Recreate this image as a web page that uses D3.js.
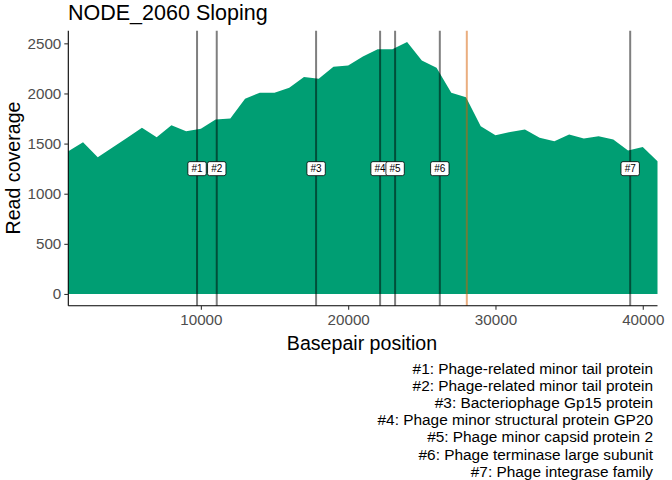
<!DOCTYPE html>
<html>
<head>
<meta charset="utf-8">
<script src="https://cdn.jsdelivr.net/npm/d3@7"></script>
<style>
  body { margin: 0; background: #fff; }
  text { font-family: "Liberation Sans", Arial, sans-serif; }
</style>
</head>
<body>
<div id="chart"></div>
<script>
// coverage sampled every 1000 bp
var positions = d3.range(1000, 42000, 1000)
var coverage = [1423, 1513, 1363, 1461, 1559, 1657, 1563, 1683, 1623, 1647,
  1740, 1750, 1947, 2007, 2007, 2057, 2163, 2147, 2267, 2280,
  2368, 2440, 2440, 2513, 2330, 2257, 2007, 1963, 1673, 1583,
  1615, 1640, 1557, 1523, 1590, 1550, 1573, 1540, 1430, 1467, 1323]

var geneLabels = ['#1', '#2', '#3', '#4', '#5', '#6', '#7']
var genePos = [9740, 11078, 17822, 22168, 23186, 26222, 39146]
var geneNames = ['Phage-related minor tail protein', 'Phage-related minor tail protein',
  'Bacteriophage Gp15 protein', 'Phage minor structural protein GP20',
  'Phage minor capsid protein 2', 'Phage terminase large subunit', 'Phage integrase family']
var markerPos = [28055]
var labelY = 1250

var xTicks = [10000, 20000, 30000, 40000]
var yTicks = [0, 500, 1000, 1500, 2000, 2500]

var w = 672, h = 480
var svg = d3.select('#chart').append('svg').attr('width', w).attr('height', h)

var x = d3.scaleLinear().domain([1000, 41000]).range([68.3, 657.5])
var y = d3.scaleLinear().domain([-117, 2626]).range([305.7, 30.7])

var data = positions.map(function (p, i) { return { x: p, y: coverage[i] } })

var area = d3.area().x(function (d) { return x(d.x) }).y0(y(0)).y1(function (d) { return y(d.y) })
svg.append('path').datum(data).attr('d', area).attr('fill', '#009E73')

// gene lines
svg.selectAll('line.gene').data(genePos).enter().append('line')
  .attr('class', 'gene')
  .attr('x1', function (d) { return x(d) }).attr('x2', function (d) { return x(d) })
  .attr('y1', 30.7).attr('y2', 305.7)
  .attr('stroke', 'black').attr('stroke-opacity', 0.5).attr('stroke-width', 2)

svg.selectAll('line.marker').data(markerPos).enter().append('line')
  .attr('class', 'marker')
  .attr('x1', function (d) { return x(d) }).attr('x2', function (d) { return x(d) })
  .attr('y1', 30.7).attr('y2', 305.7)
  .attr('stroke', '#D55E00').attr('stroke-opacity', 0.5).attr('stroke-width', 2)

// labels
var lab = svg.selectAll('g.lab').data(genePos).enter().append('g')
  .attr('class', 'lab')
  .attr('transform', function (d) { return 'translate(' + x(d) + ',' + y(labelY) + ')' })
lab.append('rect').attr('x', -9.2).attr('y', -7).attr('width', 18.4).attr('height', 14)
  .attr('rx', 2).attr('fill', 'white').attr('stroke', 'black').attr('stroke-width', 0.8)
lab.append('text').attr('text-anchor', 'middle').attr('y', 3.6)
  .attr('font-size', 10).attr('fill', 'black')
  .text(function (d, i) { return geneLabels[i] })

// axes
var xAxis = svg.append('g').attr('transform', 'translate(0,305.7)')
  .call(d3.axisBottom(x).tickValues(xTicks).tickFormat(d3.format('d')).tickSize(4).tickPadding(4.5))
var yAxis = svg.append('g').attr('transform', 'translate(68.3,0)')
  .call(d3.axisLeft(y).tickValues(yTicks).tickFormat(d3.format('d')).tickSize(4).tickPadding(3))

;[xAxis, yAxis].forEach(function (g) {
  g.select('.domain').attr('stroke', 'black').attr('stroke-width', 1.1)
  g.selectAll('.tick line').attr('stroke', '#333').attr('stroke-width', 1.1)
  g.selectAll('.tick text').attr('fill', '#4D4D4D').attr('font-size', 15.2)
    .style('font-family', '"Liberation Sans", Arial, sans-serif')
})
yAxis.select('.domain').attr('d', 'M0,305.7V30.7')
xAxis.select('.domain').attr('d', 'M68.3,0H657.5')

// titles
svg.append('text').attr('x', 68).attr('y', 19.8).attr('font-size', 21.5).attr('fill', 'black')
  .text('NODE_2060 Sloping')
svg.append('text').attr('x', 362).attr('y', 349.5).attr('text-anchor', 'middle')
  .attr('font-size', 19.6).attr('fill', 'black').text('Basepair position')
svg.append('text').attr('transform', 'translate(19.5,168) rotate(-90)').attr('text-anchor', 'middle')
  .attr('font-size', 19.6).attr('fill', 'black').text('Read coverage')

// caption
svg.selectAll('text.cap').data(geneNames).enter().append('text')
  .attr('class', 'cap')
  .attr('x', 653).attr('y', function (d, i) { return 373.5 + i * 17.2 })
  .attr('text-anchor', 'end').attr('font-size', 15.4).attr('fill', 'black')
  .text(function (d, i) { return geneLabels[i] + ': ' + d })
</script>
</body>
</html>
